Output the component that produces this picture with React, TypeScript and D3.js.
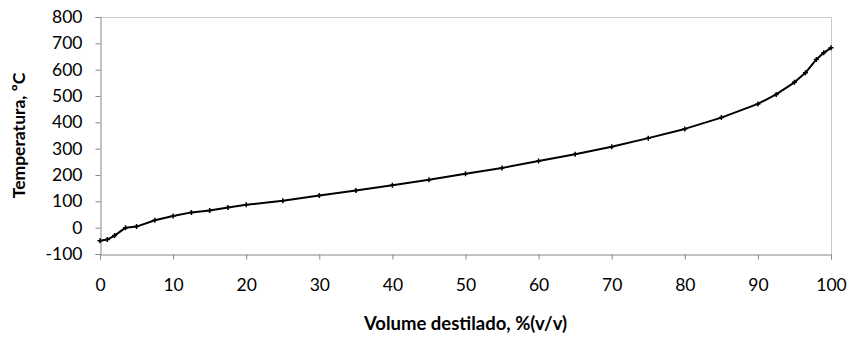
import { useEffect, useRef } from 'react';
import * as d3 from 'd3';

// ─── Data ──────────────────────────────────────────────────

const volume = [0, 1, 2, 3.5, 5, 7.5, 10, 12.5, 15, 17.5, 20, 25, 30, 35, 40, 45, 50, 55, 60, 65, 70, 75, 80, 85, 90, 92.5, 95, 96.5, 98, 99, 100];
const temperature = [-50, -45, -30, 0, 4, 28, 44, 58, 65, 77, 87, 102, 122, 141, 161, 182, 205, 227, 253, 279, 307, 340, 375, 418, 470, 506, 552, 588, 639, 664, 683];
const xTicks = [0, 10, 20, 30, 40, 50, 60, 70, 80, 90, 100];
const yTicks = [-100, 0, 100, 200, 300, 400, 500, 600, 700, 800];

const xTitle = 'Volume destilado, %(v/v)';
const yTitle = 'Temperatura, ºC';

// ─── Component ──────────────────────────────────────────────

export default function App() {
  const svgRef = useRef<SVGSVGElement>(null);
  const width = 848;
  const height = 337;

  useEffect(() => {
    if (!svgRef.current) return;
    const svg = d3.select(svgRef.current);
    svg.selectAll('*').remove();

    const margin = { top: 17, right: 17, bottom: 83, left: 100 };
    const w = width - margin.left - margin.right;
    const h = height - margin.top - margin.bottom;
    const font = 'Lato, "Open Sans", sans-serif';
    const fmt = (d: d3.NumberValue) => String(d); // plain hyphen minus, like the original

    const g = svg.append('g').attr('transform', `translate(${margin.left},${margin.top})`);

    const x = d3.scaleLinear().domain([0, 100]).range([0, w]);
    const y = d3.scaleLinear().domain([-100, 800]).range([h, 0]);

    // plot border (top / right)
    g.append('path')
      .attr('d', `M0,0.5H${w + 0.5}V${h}`)
      .attr('fill', 'none')
      .attr('stroke', '#c8c8c8')
      .attr('stroke-width', 1);

    // Axes
    g.append('g')
      .attr('transform', `translate(0,${h + 0.5})`)
      .call(d3.axisBottom(x).tickValues(xTicks).tickSize(5).tickPadding(19).tickFormat(fmt))
      .call((a) => a.select('.domain').attr('stroke', '#868686'))
      .call((a) => a.selectAll('.tick line').attr('stroke', '#868686'))
      .selectAll('text')
      .style('font-family', font)
      .style('font-size', '17.5px')
      .style('fill', '#000');

    g.append('g')
      .attr('transform', 'translate(0.5,0)')
      .call(d3.axisLeft(y).tickValues(yTicks).tickSize(5).tickPadding(13).tickFormat(fmt))
      .call((a) => a.select('.domain').attr('stroke', '#868686'))
      .call((a) => a.selectAll('.tick line').attr('stroke', '#868686'))
      .selectAll('text')
      .style('font-family', font)
      .style('font-size', '17.5px')
      .style('fill', '#000');

    // Titles
    svg.append('text')
      .attr('x', margin.left + w / 2)
      .attr('y', 330)
      .attr('text-anchor', 'middle')
      .style('font-family', font)
      .style('font-size', '18.5px')
      .style('font-weight', 'bold')
      .text(xTitle);

    svg.append('text')
      .attr('transform', `translate(25,${margin.top + y(350)}) rotate(-90)`)
      .attr('text-anchor', 'middle')
      .style('font-family', font)
      .style('font-size', '17.5px')
      .style('font-weight', 'bold')
      .text(yTitle);

    // Curve
    const data = volume.map((v, i) => ({ v, t: temperature[i] }));
    const line = d3.line<{ v: number; t: number }>()
      .x((d) => x(d.v))
      .y((d) => y(d.t));

    g.append('path')
      .datum(data)
      .attr('fill', 'none')
      .attr('stroke', '#000')
      .attr('stroke-width', 2)
      .attr('stroke-linejoin', 'round')
      .attr('d', line);

    // Markers (small crosses)
    g.selectAll('path.marker')
      .data(data)
      .join('path')
      .attr('class', 'marker')
      .attr('d', (d) => {
        const cx = x(d.v);
        const cy = y(d.t);
        return `M${cx - 2.5},${cy}H${cx + 2.5}M${cx},${cy - 2.5}V${cy + 2.5}`;
      })
      .attr('stroke', '#000')
      .attr('stroke-width', 1.5);
  }, []);

  return (
    <svg
      ref={svgRef}
      width={width}
      height={height}
      style={{ position: 'absolute', left: 0, top: 0, background: '#fff' }}
    />
  );
}
